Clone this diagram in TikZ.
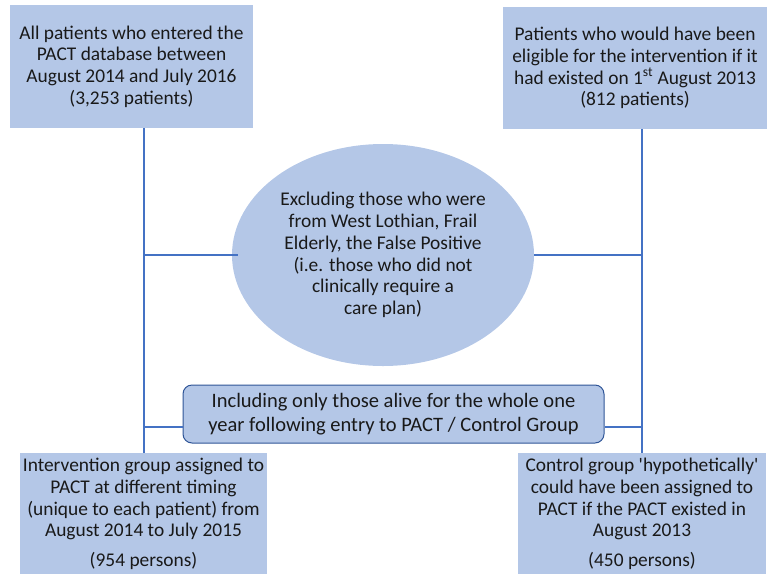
\documentclass[tikz,border=0pt]{standalone}
\usepackage{fontspec}
\setmainfont{Carlito}
\usetikzlibrary{shapes.geometric,positioning}
\definecolor{boxcolor}{RGB}{180,199,231}
\definecolor{linecolor}{RGB}{68,114,196}
\definecolor{edgecolor}{RGB}{47,85,151}

\begin{document}
\begin{tikzpicture}[%
    x=1pt, y=-1pt,              % Work in pixels of the page, top-down
    ]
\tikzset{
  base/.style={align=center, inner sep=0pt, fill=boxcolor, text=black!90,
    font=\fontsize{19.4}{21.7}\selectfont},
  proc/.style={base, rectangle},
  test/.style={base, ellipse},
  term/.style={base, rectangle, rounded corners=9pt, draw=edgecolor, line width=1pt,
    font=\fontsize{20.5}{24}\selectfont},
  norm/.style={draw=linecolor, line width=2pt},
}
\useasboundingbox (0,0) rectangle (767,573);

\node [proc, minimum width=243pt, minimum height=123pt] (p0) at (131.5,66.5)
  {All patients who entered the\\PACT database between\\August 2014 and July 2016\\(3,253 patients)};
\node [proc, minimum width=264pt, minimum height=122pt] (p1) at (635,68)
  {Patients who would have been\\eligible for the intervention if it\\had existed on 1\textsuperscript{st} August 2013\\(812 patients)};
\node [test, minimum width=302pt, minimum height=222pt] (p2) at (383,255)
  {Excluding those who were\\from West Lothian, Frail\\Elderly, the False Positive\\(i.e. those who did not\\clinically require a\\care plan)};
\node [term, minimum width=421pt, minimum height=58pt] (p3) at (393.5,414)
  {Including only those alive for the whole one\\year following entry to PACT / Control Group};
\node [proc, minimum width=247pt, minimum height=122pt] (p4) at (143.5,514)
  {Intervention group assigned to\\PACT at different timing\\(unique to each patient) from\\August 2014 to July 2015\\[8pt](954 persons)};
\node [proc, minimum width=248pt, minimum height=122pt] (p5) at (642,514)
  {Control group \textquotesingle hypothetically\textquotesingle\\could have been assigned to\\PACT if the PACT existed in\\August 2013\\[8pt](450 persons)};

%connect
\draw [norm] (p0.south -| p4.north) -- (p4.north);
\draw [norm] (p1.south -| p5.north) -- (p5.north);
\draw [norm] ([xshift=6pt]p2.west) -- (p2.west -| p4.north);
\draw [norm] (p2.east) -- (p2.east -| p5.north);
\draw [norm] ([yshift=-13pt]p3.west) -- ([yshift=-13pt]p3.west -| p4.north);
\draw [norm] ([yshift=-13pt]p3.east) -- ([yshift=-13pt]p3.east -| p5.north);

\end{tikzpicture}
\end{document}
